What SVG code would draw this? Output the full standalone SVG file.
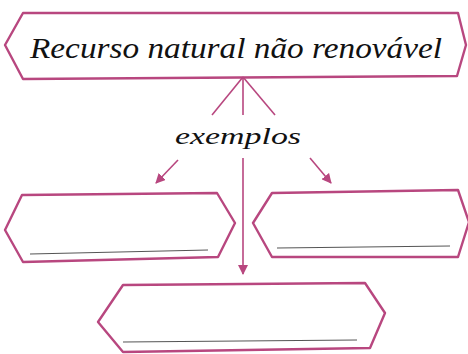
<svg xmlns="http://www.w3.org/2000/svg" width="468" height="354" viewBox="0 0 468 354">
<style>
.box{fill:#fff;stroke:#b8477f;stroke-width:2.4;stroke-linejoin:round}
.con{stroke:#b8477f;stroke-width:1.6;fill:none}
.wline{stroke:#555;stroke-width:1.2}
.t{font-family:"Liberation Serif","DejaVu Serif",serif;font-style:italic;fill:#111}
</style>
<defs>
<marker id="ah" viewBox="0 0 10 10" refX="9" refY="5" markerWidth="10" markerHeight="10" markerUnits="userSpaceOnUse" orient="auto">
<path d="M0,0 L10,5 L0,10 Z" fill="#b8477f"/>
</marker>
</defs>
<rect width="468" height="354" fill="#fff"/>
<g id="top">
<path class="box" d="M23,13 L458,13 L466,45 L457,76 L23,79 L5,45 Z"/>
<text class="t" x="236" y="58" font-size="30" text-anchor="middle" textLength="412" lengthAdjust="spacingAndGlyphs">Recurso natural não renovável</text>
</g>
<g id="connectors">
<line class="con" x1="243" y1="77" x2="212" y2="115"/>
<line class="con" x1="243" y1="77" x2="243" y2="115"/>
<line class="con" x1="243" y1="77" x2="275" y2="115"/>
<line class="con" x1="178" y1="160" x2="156" y2="183" marker-end="url(#ah)"/>
<line class="con" x1="310" y1="158" x2="331" y2="183" marker-end="url(#ah)"/>
<line class="con" x1="243" y1="158" x2="243" y2="274" marker-end="url(#ah)"/>
</g>
<g id="label">
<text class="t" x="238" y="144" font-size="24" text-anchor="middle" textLength="126" lengthAdjust="spacingAndGlyphs">exemplos</text>
</g>
<g id="left">
<path class="box" d="M22,195 L217,193 L235,223 L218,257 L23,262 L5,230 Z"/>
<line class="wline" x1="30" y1="254" x2="208" y2="250"/>
</g>
<g id="right">
<path class="box" d="M272,193 L458,190 L469,222 L458,257 L272,257 L253,223 Z"/>
<line class="wline" x1="277" y1="248" x2="450" y2="246" stroke="#777"/>
</g>
<g id="bottom">
<path class="box" d="M123,285 L365,283 L385,313 L370,348 L123,352 L98,322 Z"/>
<line class="wline" x1="123" y1="342" x2="357" y2="340"/>
</g>
</svg>
